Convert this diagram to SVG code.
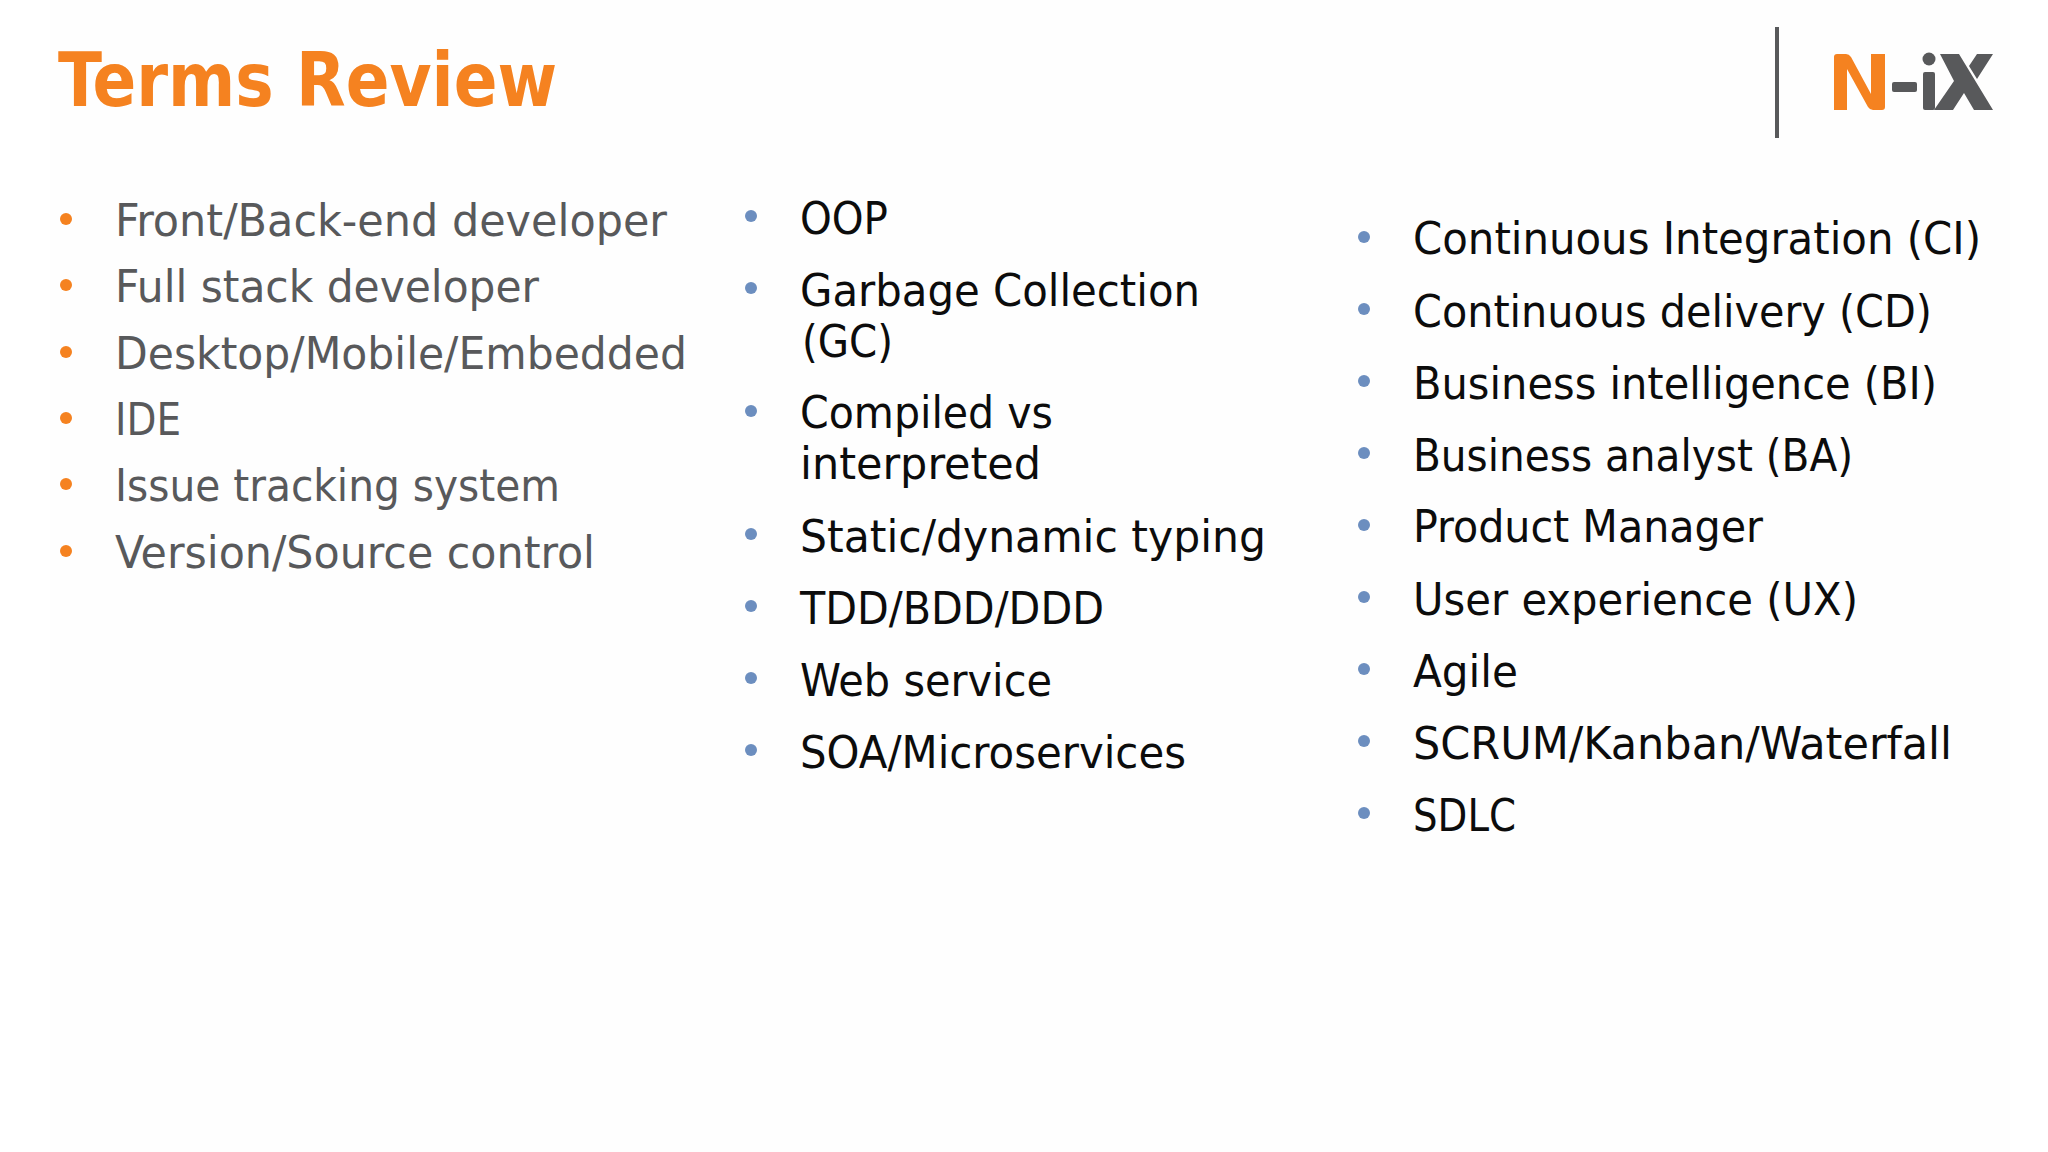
<svg xmlns="http://www.w3.org/2000/svg" width="2048" height="1152" viewBox="0 0 2048 1152">
<style>
text{font-family:"DejaVu Sans",Verdana,sans-serif;font-stretch:condensed;font-size:45px}
.t{font-size:75px;font-weight:bold;fill:#f58220}
.g{fill:#58595b}.k{fill:#0c0c0c}
.o{fill:#f58220}.b{fill:#6c8ebf}
</style>
<rect width="2048" height="1152" fill="#ffffff"/>
<rect x="50" y="0" width="1960" height="1152" fill="#fefefe"/>
<text class="t" x="58" y="106" textLength="499" lengthAdjust="spacingAndGlyphs">Terms Review</text>
<g id="logo">
<rect x="1775" y="27" width="4" height="111" fill="#58595b"/>
<path d="M1834 110V57q0-3 3-3h9q3 0 5 3l20 37V54h14v53q0 3-3 3h-9q-3 0-5-3l-21-38v41z" fill="#f58220"/>
<rect x="1892" y="82" width="25" height="10" rx="2" fill="#58595b"/>
<circle cx="1929" cy="59" r="6.5" fill="#58595b"/>
<rect x="1923" y="72" width="12" height="38" rx="2" fill="#58595b"/>
<path d="M1940 54h19l34 56h-19l-10-17-11 17h-19l20-29zM1977 54h16l-16 25-8-13z" fill="#58595b"/>
</g>
<g id="col1">
<circle class="o" cx="66" cy="219" r="6"/><text class="g" x="115" y="236" textLength="552" lengthAdjust="spacingAndGlyphs">Front/Back-end developer</text>
<circle class="o" cx="66" cy="285" r="6"/><text class="g" x="115" y="302" textLength="424" lengthAdjust="spacingAndGlyphs">Full stack developer</text>
<circle class="o" cx="66" cy="352" r="6"/><text class="g" x="115" y="369" textLength="572" lengthAdjust="spacingAndGlyphs">Desktop/Mobile/Embedded</text>
<circle class="o" cx="66" cy="418" r="6"/><text class="g" x="115" y="435" textLength="66" lengthAdjust="spacingAndGlyphs">IDE</text>
<circle class="o" cx="66" cy="484" r="6"/><text class="g" x="115" y="501" textLength="445" lengthAdjust="spacingAndGlyphs">Issue tracking system</text>
<circle class="o" cx="66" cy="551" r="6"/><text class="g" x="115" y="568" textLength="480" lengthAdjust="spacingAndGlyphs">Version/Source control</text>
</g>
<g id="col2">
<circle class="b" cx="751" cy="216" r="6"/><text class="k" x="800" y="234" textLength="88" lengthAdjust="spacingAndGlyphs">OOP</text>
<circle class="b" cx="751" cy="288" r="6"/><text class="k" x="800" y="306" textLength="400" lengthAdjust="spacingAndGlyphs">Garbage Collection</text>
<text class="k" x="802" y="357" textLength="91" lengthAdjust="spacingAndGlyphs">(GC)</text>
<circle class="b" cx="751" cy="411" r="6"/><text class="k" x="800" y="428" textLength="253" lengthAdjust="spacingAndGlyphs">Compiled vs</text>
<text class="k" x="800" y="479" textLength="241" lengthAdjust="spacingAndGlyphs">interpreted</text>
<circle class="b" cx="751" cy="534" r="6"/><text class="k" x="800" y="552" textLength="466" lengthAdjust="spacingAndGlyphs">Static/dynamic typing</text>
<circle class="b" cx="751" cy="606" r="6"/><text class="k" x="800" y="624" textLength="304" lengthAdjust="spacingAndGlyphs">TDD/BDD/DDD</text>
<circle class="b" cx="751" cy="678" r="6"/><text class="k" x="800" y="696" textLength="252" lengthAdjust="spacingAndGlyphs">Web service</text>
<circle class="b" cx="751" cy="750" r="6"/><text class="k" x="800" y="768" textLength="386" lengthAdjust="spacingAndGlyphs">SOA/Microservices</text>
</g>
<g id="col3">
<circle class="b" cx="1364" cy="237" r="6"/><text class="k" x="1413" y="254" textLength="568" lengthAdjust="spacingAndGlyphs">Continuous Integration (CI)</text>
<circle class="b" cx="1364" cy="309" r="6"/><text class="k" x="1413" y="327" textLength="519" lengthAdjust="spacingAndGlyphs">Continuous delivery (CD)</text>
<circle class="b" cx="1364" cy="381" r="6"/><text class="k" x="1413" y="399" textLength="524" lengthAdjust="spacingAndGlyphs">Business intelligence (BI)</text>
<circle class="b" cx="1364" cy="453" r="6"/><text class="k" x="1413" y="471" textLength="440" lengthAdjust="spacingAndGlyphs">Business analyst (BA)</text>
<circle class="b" cx="1364" cy="525" r="6"/><text class="k" x="1413" y="542" textLength="350" lengthAdjust="spacingAndGlyphs">Product Manager</text>
<circle class="b" cx="1364" cy="597" r="6"/><text class="k" x="1413" y="615" textLength="445" lengthAdjust="spacingAndGlyphs">User experience (UX)</text>
<circle class="b" cx="1364" cy="669" r="6"/><text class="k" x="1413" y="687" textLength="105" lengthAdjust="spacingAndGlyphs">Agile</text>
<circle class="b" cx="1364" cy="741" r="6"/><text class="k" x="1413" y="759" textLength="539" lengthAdjust="spacingAndGlyphs">SCRUM/Kanban/Waterfall</text>
<circle class="b" cx="1364" cy="813" r="6"/><text class="k" x="1413" y="831" textLength="103" lengthAdjust="spacingAndGlyphs">SDLC</text>
</g>
</svg>
